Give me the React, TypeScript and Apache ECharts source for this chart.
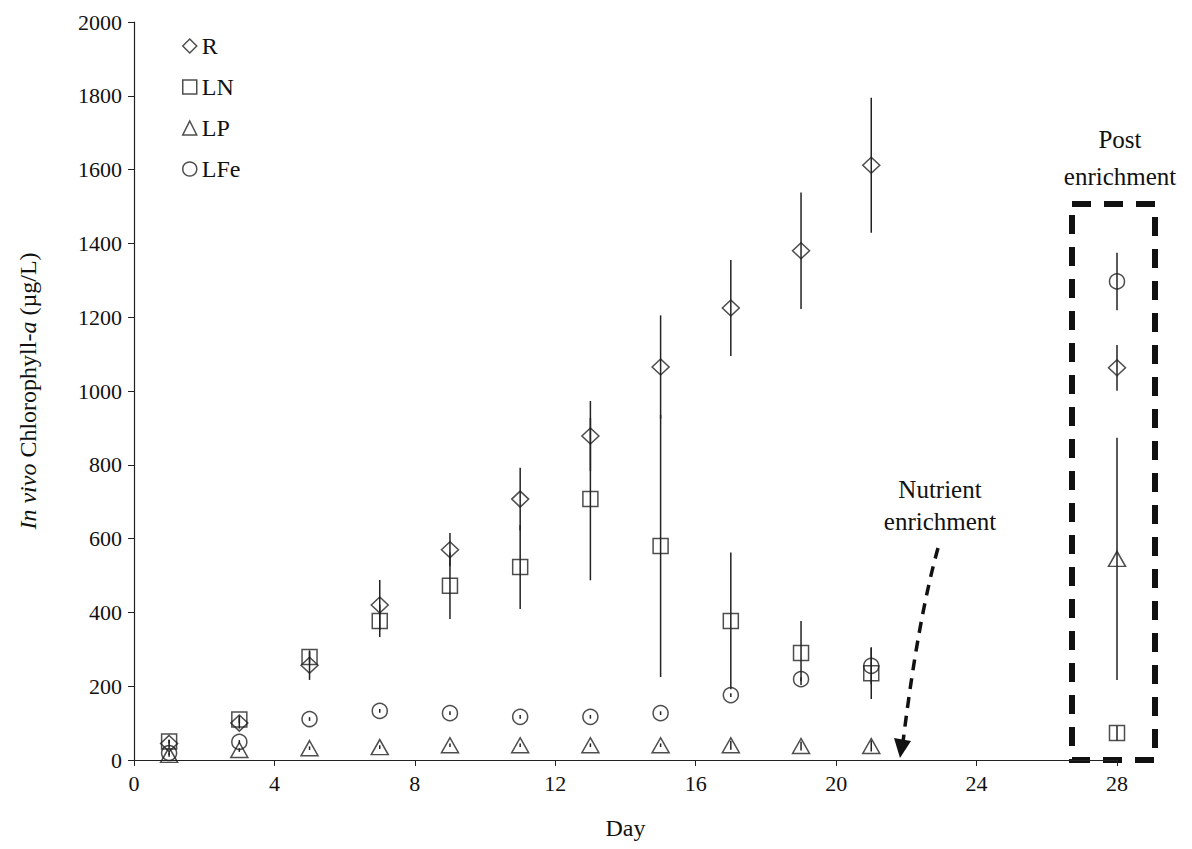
import React, { useEffect, useRef } from "react";
import * as echarts from "echarts";

const days = [1, 3, 5, 7, 9, 11, 13, 15, 17, 19, 21, 28];
const rMean = [45, 100, 257, 420, 570, 707, 878, 1065, 1225, 1380, 1612, 1063];
const rErr = [10, 15, 40, 68, 45, 85, 95, 140, 130, 158, 183, 62];
const lnMean = [50, 110, 279, 377, 472, 523, 707, 580, 377, 290, 235, 73];
const lnErr = [5, 10, 15, 44, 90, 114, 220, 355, 185, 87, 70, 20];
const lpMean = [14, 27, 32, 35, 40, 40, 40, 40, 40, 38, 38, 545];
const lpErr = [5, 5, 5, 5, 5, 5, 5, 5, 12, 12, 15, 328];
const lfeMean = [19, 49, 111, 133, 127, 117, 117, 127, 176, 219, 255, 1297];
const lfeErr = [5, 5, 5, 5, 5, 5, 5, 5, 5, 5, 50, 78];

const xTicks = [0, 4, 8, 12, 16, 20, 24, 28];
const font = "'Liberation Serif', 'Times New Roman', serif";

export default function App() {
  const ref = useRef<HTMLDivElement>(null);
  useEffect(() => {
    if (!ref.current) return;
    const chart = echarts.init(ref.current, null, { renderer: "svg" });
    const mk = (m: number[]) => days.map((d, i) => [d, m[i]]);
    const eb = (m: number[], e: number[]) => days.map((d, i) => [d, m[i] - e[i], m[i] + e[i]]);
    const errSeries = (m: number[], e: number[]) => ({
      type: "custom",
      silent: true,
      z: 1,
      data: eb(m, e),
      encode: { x: 0, y: [1, 2] },
      renderItem: (params: any, api: any) => {
        const x = api.value(0);
        const p1 = api.coord([x, api.value(1)]);
        const p2 = api.coord([x, api.value(2)]);
        return {
          type: "line",
          shape: { x1: p1[0], y1: p1[1], x2: p2[0], y2: p2[1] },
          style: { stroke: "#222", lineWidth: 1.5 },
        };
      },
    });
    const markerStyle = { color: "rgba(0,0,0,0)", borderColor: "#222", borderWidth: 1.5 };
    const scat = (name: string, symbol: string, size: any, m: number[]) => ({
      name,
      type: "scatter",
      symbol,
      symbolSize: size,
      z: 3,
      data: mk(m),
      itemStyle: markerStyle,
    });
    chart.setOption({
      animation: false,
      backgroundColor: "#fff",
      grid: { left: 134, right: 75, top: 22, bottom: 89 },
      legend: {
        orient: "vertical",
        left: 177,
        top: 29,
        itemWidth: 14,
        itemHeight: 14,
        itemGap: 17,
        textStyle: { fontFamily: font, fontSize: 24, color: "#111", padding: [0, 0, 0, 0] },
        data: [
          { name: "R", icon: "diamond", itemStyle: markerStyle },
          { name: "LN", icon: "rect", itemStyle: markerStyle },
          { name: "LP", icon: "triangle", itemStyle: markerStyle },
          { name: "LFe", icon: "circle", itemStyle: markerStyle },
        ],
      },
      xAxis: {
        type: "value",
        min: 0,
        max: 28,
        interval: 4,
        name: "Day",
        nameLocation: "middle",
        nameGap: 56,
        nameTextStyle: { fontFamily: font, fontSize: 24, color: "#111" },
        axisLine: { lineStyle: { color: "#222", width: 1.2 } },
        axisTick: { show: true, length: 6, lineStyle: { color: "#222" } },
        axisLabel: {
          fontFamily: font,
          fontSize: 22,
          color: "#111",
          margin: 12,
          formatter: (v: number) => (xTicks.includes(v) ? String(v) : ""),
        },
        splitLine: { show: false },
      },
      yAxis: {
        type: "value",
        min: 0,
        max: 2000,
        interval: 200,
        name: "{i|In vivo} Chlorophyll-{i|a} (µg/L)",
        nameLocation: "middle",
        nameGap: 94,
        nameTextStyle: {
          fontFamily: font,
          fontSize: 24,
          color: "#111",
          rich: { i: { fontFamily: font, fontSize: 24, fontStyle: "italic", color: "#111" } },
        },
        axisLine: { show: true, lineStyle: { color: "#222", width: 1.2 } },
        axisTick: { show: true, length: 6, lineStyle: { color: "#222" } },
        axisLabel: {
          fontFamily: font,
          fontSize: 22,
          color: "#111",
          margin: 12,
          formatter: (v: number) => String(v),
        },
        splitLine: { show: false },
      },
      series: [
        errSeries(rMean, rErr),
        errSeries(lnMean, lnErr),
        errSeries(lpMean, lpErr),
        errSeries(lfeMean, lfeErr),
        scat("R", "diamond", [17, 16], rMean),
        scat("LN", "rect", 15, lnMean),
        scat("LP", "triangle", [17, 15], lpMean),
        scat("LFe", "circle", 15, lfeMean),
      ],
      graphic: [
        {
          type: "text",
          x: 940,
          y: 473,
          style: {
            text: "Nutrient\nenrichment",
            font: `25px ${font}`,
            fill: "#111",
            textAlign: "center",
            lineHeight: 32,
          },
        },
        {
          type: "text",
          x: 1120,
          y: 121,
          style: {
            text: "Post\nenrichment",
            font: `25px ${font}`,
            fill: "#111",
            textAlign: "center",
            lineHeight: 37,
          },
        },
        {
          type: "bezierCurve",
          shape: { x1: 938, y1: 548, cpx1: 918, cpy1: 620, x2: 903, y2: 742 },
          style: { stroke: "#111", lineWidth: 3.5, lineDash: [11, 8], fill: null },
        },
        {
          type: "polygon",
          shape: { points: [[894, 738], [911, 741], [900, 758]] },
          style: { fill: "#111" },
        },
        {
          type: "rect",
          shape: { x: 1072, y: 204, width: 83, height: 556 },
          style: { stroke: "#111", lineWidth: 6, lineDash: [19, 13], fill: null },
        },
      ],
    });
    return () => chart.dispose();
  }, []);
  return <div ref={ref} style={{ width: 1192, height: 849, margin: -8 }} />;
}
